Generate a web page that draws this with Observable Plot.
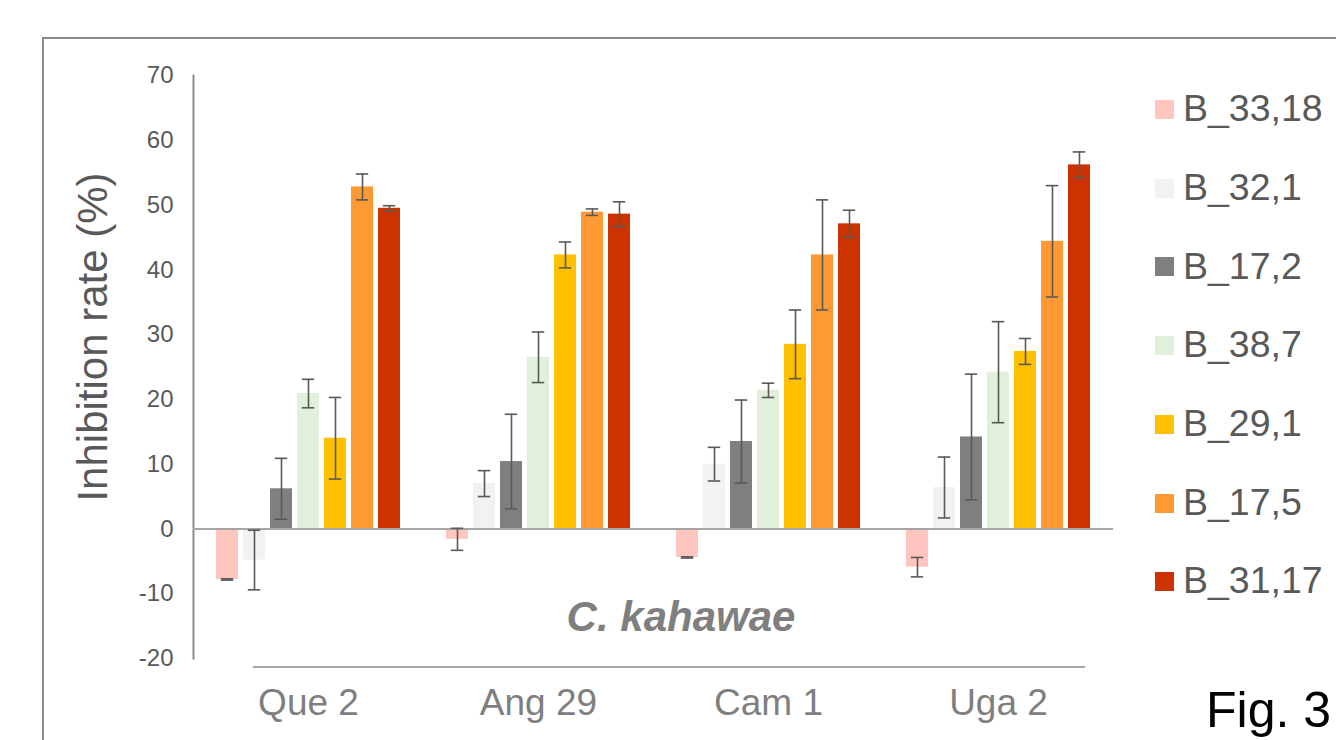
<!DOCTYPE html>
<html><head><meta charset="utf-8">
<script src="https://cdn.jsdelivr.net/npm/d3@7"></script>
<script src="https://cdn.jsdelivr.net/npm/@observablehq/plot@0.6"></script>
<style>
html,body{margin:0;padding:0;background:#fff;}
#wrap{position:relative;width:1336px;height:740px;overflow:hidden;font-family:"Liberation Sans",Arial,Helvetica,sans-serif;}
#chart{position:absolute;left:0;top:0;}
.abs{position:absolute;white-space:nowrap;line-height:1;}
.hline{position:absolute;}
</style></head><body>
<div id="wrap"><div id="chart"></div></div>
<script>
// ---- data ----
const groups = ["Que 2", "Ang 29", "Cam 1", "Uga 2"];
const series = ["B_33,18", "B_32,1", "B_17,2", "B_38,7", "B_29,1", "B_17,5", "B_31,17"];
const colors = ["#FFC5BE", "#F2F2F2", "#7F7F7F", "#E2EFDA", "#FFC000", "#FF9933", "#CC3300"];
const yTicks = [-20, -10, 0, 10, 20, 30, 40, 50, 60, 70];

const mean_B33_18 = [-7.8, -1.6, -4.4, -5.9];
const mean_B32_1  = [-4.8, 7.0, 10.0, 6.4];
const mean_B17_2  = [6.2, 10.4, 13.5, 14.2];
const mean_B38_7  = [20.9, 26.5, 21.4, 24.2];
const mean_B29_1  = [14.0, 42.3, 28.5, 27.4];
const mean_B17_5  = [52.8, 48.9, 42.3, 44.4];
const mean_B31_17 = [49.5, 48.6, 47.1, 56.2];

const err_B33_18 = [0.1, 1.7, 0.1, 1.5];
const err_B32_1  = [4.6, 2.0, 2.6, 4.7];
const err_B17_2  = [4.7, 7.3, 6.4, 9.7];
const err_B38_7  = [2.2, 3.9, 1.1, 7.8];
const err_B29_1  = [6.3, 2.0, 5.3, 2.0];
const err_B17_5  = [2.0, 0.5, 8.5, 8.6];
const err_B31_17 = [0.4, 1.9, 2.1, 2.0];

const means = [mean_B33_18, mean_B32_1, mean_B17_2, mean_B38_7, mean_B29_1, mean_B17_5, mean_B31_17];
const errs  = [err_B33_18, err_B32_1, err_B17_2, err_B38_7, err_B29_1, err_B17_5, err_B31_17];

const rows = [];
groups.forEach((g, gi) => series.forEach((s, si) => {
  rows.push({group: g, series: s, value: means[si][gi], err: errs[si][gi]});
}));

const FONT = '"Liberation Sans", Arial, Helvetica, sans-serif';
const errColor = "#595959";

const chart = Plot.plot({
  width: 1336, height: 740,
  marginLeft: 193, marginRight: 223, marginTop: 75, marginBottom: 82,
  style: {fontFamily: FONT, background: "transparent", overflow: "visible"},
  fx: {domain: groups, paddingInner: 0.2, paddingOuter: 0.1, label: null},
  x: {domain: series, paddingInner: 0.2, paddingOuter: 0, axis: null},
  y: {domain: [-20, 70], label: null},
  color: {domain: series, range: colors},
  marks: [
    Plot.frame({anchor: "left", facet: "super", dx: -23, stroke: "#8c8c8c", strokeWidth: 2}),
    Plot.barY(rows, {fx: "group", x: "series", y1: 0, y2: "value", fill: "series"}),
    Plot.ruleY([0], {facet: false, stroke: "#a6a6a6", strokeWidth: 2, insetLeft: -23, insetRight: -23}),
    Plot.ruleX(rows, {fx: "group", x: "series", y1: d => d.value - d.err, y2: d => d.value + d.err, stroke: errColor, strokeWidth: 1.6}),
    Plot.tickY(rows, {fx: "group", x: "series", y: d => d.value - d.err, stroke: errColor, strokeWidth: 1.6, insetLeft: 4.8, insetRight: 4.8}),
    Plot.tickY(rows, {fx: "group", x: "series", y: d => d.value + d.err, stroke: errColor, strokeWidth: 1.6, insetLeft: 4.8, insetRight: 4.8}),
    Plot.axisY({ticks: yTicks, tickFormat: d => String(d), tickSize: 0, tickPadding: 43, fontSize: 24, color: "#595959", label: null}),
    Plot.axisFx({anchor: "bottom", tickSize: 0, tickPadding: 30, fontSize: 37, color: "#7f7f7f", label: null})
  ]
});
document.getElementById("chart").appendChild(chart);

// ---- decorations (HTML overlay) ----
const wrap = document.getElementById("wrap");
function addDiv(cls, css, text) {
  const d = document.createElement("div");
  d.className = cls;
  Object.assign(d.style, css);
  if (text != null) d.textContent = text;
  wrap.appendChild(d);
  return d;
}
// outer frame lines (top and left)
addDiv("hline", {left: "42px", top: "36.5px", width: "1300px", height: "2px", background: "#8c8c8c"});
addDiv("hline", {left: "42px", top: "36.5px", width: "2px", height: "710px", background: "#8c8c8c"});
// line above group labels
addDiv("hline", {left: "253px", top: "666px", width: "832px", height: "2px", background: "#a6a6a6"});
// y label
addDiv("abs", {left: "93px", top: "337px", fontSize: "42px", color: "#595959", transform: "translate(-50%,-50%) rotate(-90deg)"}, "Inhibition rate (%)");
// species label
addDiv("abs", {left: "681px", top: (632 - 0.8465 * 42) + "px", fontSize: "42px", color: "#7f7f7f", fontWeight: "bold", fontStyle: "italic", transform: "translateX(-50%)"}, "C. kahawae");
// legend
series.forEach((s, i) => {
  const base = 122 + i * 78.7;
  addDiv("hline", {left: "1155px", top: (base - 22) + "px", width: "19px", height: "19px", background: colors[i]});
  addDiv("abs", {left: "1183px", top: (base - 0.8465 * 37.5) + "px", fontSize: "37.5px", color: "#595959"}, s);
});
// figure number
addDiv("abs", {left: "1206px", top: (727 - 0.8465 * 50) + "px", fontSize: "50px", color: "#000"}, "Fig. 3");
</script>
</body></html>
